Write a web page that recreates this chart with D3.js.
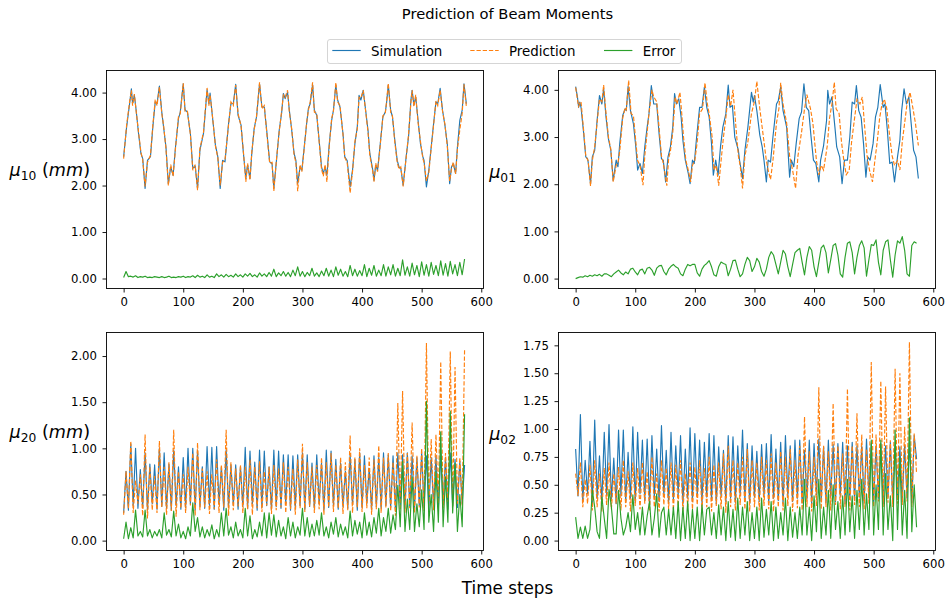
<!DOCTYPE html>
<html><head><meta charset="utf-8">
<script src="https://cdn.jsdelivr.net/npm/d3@7"></script>
<style>body{margin:0;background:#fff}svg{display:block}text{font-family:"DejaVu Sans",sans-serif}</style>
</head><body><svg id="c" width="945" height="601"></svg>
<script>
// ---------- DATA ----------
const seriesNames = ["Simulation", "Prediction", "Error"];
const xTickValues = [0, 100, 200, 300, 400, 500, 600];
const steps4 = d3.range(0, 576, 4); // time steps sampled every 4

// mu10 (top-left)
const tlT = [0,5,10,13,15,18,21,25,29,32, 36,40,45,49,53,56,60,64,67,71, 75,79,83,87,92,95,100,103,107,112,
 116,120,124,128,134,140,143,145,149,154, 158,162,166,170,176,180,184,188,192,197, 201,205,208,212,215,219,223,228,232,236,
 240,245,249,252,257,261,265,268,271,275, 278,282,286,289,292,296,299,303,307,310, 313,317,320,324,328,332,335,338,341,345,
 349,352,356,359,363,368,371,375,380,384, 388,392,395,398,402,406,410,413,418,420, 423,426,430,435,439,441,444,448,451,455,
 459,462,465,469,474,478,482,484,487,490, 494,498,502,504,508,512,516,520,524,527, 531,535,539,543,547,550,553,557,560,564, 568,571,575];
const tlSim = [2.62,3.26,3.76,4.08,3.76,3.94,3.62,3.12,2.69,2.58, 1.94,2.54,2.62,3.26,3.8,3.76,4.14,3.58,3.26,2.83, 2.04,2.4,2.22,2.83,3.44,3.58,4.19,3.63,3.58,3.12,
 2.37,2.42,1.94,2.76,3.12,4.06,3.76,3.99,3.48,2.87, 2.62,1.94,2.54,2.51,3.33,3.76,3.76,4.18,3.51,3.3, 2.69,2.15,2.44,2.15,2.69,3.23,3.48,4.19,3.69,3.69,
 3.19,2.51,2.47,1.94,2.62,3.19,3.55,3.98,3.87,4.01, 3.62,3.19,2.69,2.54,2.04,2.4,2.33,2.83,3.33,3.66, 3.76,4.17,3.62,3.51,2.97,2.4,2.26,2.4,2.22,2.9,
 3.4,3.62,4.16,3.84,3.69,3.12,2.62,2.54,1.97,2.33, 2.9,3.26,3.94,3.84,4.05,3.62,3.19,2.69,2.33,2.11, 2.44,2.33,2.83,3.48,3.58,3.76,4.16,3.62,3.48,2.97,
 2.54,2.4,2.37,2.01,2.62,3.05,3.84,4.05,3.73,3.91, 3.4,2.9,2.62,2.54,1.97,2.33,2.83,3.33,3.8,3.76, 4.09,3.62,3.3,2.9,2.04,2.4,2.47,2.26,2.83,3.4, 3.62,4.19,3.76];
const tlPred = [2.58,3.3,3.8,4.05,3.72,3.97,3.6,3.15,2.72,2.55, 1.98,2.5,2.65,3.3,3.85,3.72,4.12,3.55,3.3,2.8, 2.0,2.45,2.2,2.8,3.48,3.55,4.2,3.6,3.6,3.1,
 2.33,2.45,1.9,2.8,3.15,4.1,3.72,3.95,3.5,2.85, 2.6,2.0,2.5,2.55,3.3,3.8,3.72,4.16,3.55,3.28, 2.72,2.08,2.48,2.12,2.72,3.2,3.5,4.22,3.65,3.72,
 3.15,2.48,2.5,1.88,2.65,3.15,3.6,3.95,3.9,4.05, 3.58,3.22,2.65,2.5,1.88,2.45,2.3,2.8,3.35,3.62, 3.8,4.22,3.58,3.55,2.95,2.35,2.2,2.45,2.08,2.85,
 3.45,3.6,4.22,3.8,3.72,3.1,2.6,2.5,1.84,2.3, 2.95,3.22,3.9,3.88,4.05,3.6,3.15,2.65,2.3,2.08, 2.48,2.3,2.8,3.5,3.55,3.8,4.2,3.58,3.5,2.92,
 2.5,2.35,2.4,1.98,2.6,3.1,3.8,4.05,3.7,3.95, 3.35,2.95,2.58,2.5,2.1,2.28,2.8,3.3,3.82,3.72, 4.05,3.6,3.32,2.85,2.1,2.35,2.5,2.25,2.78,3.2, 3.55,4.18,3.7];
const tlErr = [0.02,0.15,0.04,0.05,0.03,0.06,0.02,0.04, 0.03,0.05,0.02,0.03,0.02,0.04,0.03,0.02, 0.04,0.02,0.03,0.05,0.02,0.03,0.02,0.04,
 0.03,0.05,0.02,0.04,0.03,0.06,0.02,0.07, 0.03,0.05,0.02,0.08,0.03,0.05,0.02,0.1, 0.04,0.08,0.03,0.09,0.04,0.07,0.03,0.1,
 0.04,0.08,0.03,0.1,0.05,0.11,0.04,0.08, 0.03,0.12,0.05,0.1,0.04,0.13,0.05,0.2, 0.04,0.12,0.06,0.15,0.05,0.13,0.04,0.18,
 0.06,0.25,0.05,0.15,0.04,0.13,0.06,0.22, 0.05,0.12,0.04,0.16,0.06,0.22,0.05,0.18, 0.04,0.25,0.07,0.2,0.05,0.15,0.04,0.28,
 0.06,0.2,0.05,0.17,0.06,0.3,0.04,0.22, 0.07,0.28,0.05,0.18,0.06,0.3,0.05,0.25, 0.08,0.3,0.05,0.22,0.06,0.4,0.07,0.25,
 0.05,0.33,0.08,0.28,0.04,0.36,0.07,0.3, 0.05,0.35,0.09,0.28,0.06,0.38,0.07,0.32, 0.05,0.37,0.1,0.3,0.06,0.35,0.08,0.42];

// mu01 (top-right)
const trSimT = [0,3,5,7,9,13,17,20,21,25, 28,32,36,40,44,47,51,55,59,63, 68,71,74,79,83,85,88,92,97,101, 104,108,112,116,120,123,127,131,136,140,
 144,147,151,155,159,163,166,169,173,177, 180,184,189,192,196,199,203,208,212,216, 220,224,228,231,235,239,243,247,252,256,
 259,263,267,273,275,280,284,289,295,298, 300,304,309,313,316,320,323,327,331,337, 340,344,348,354,359,362,366,370,375,379,
 383,387,391,395,399,403,408,411,416,421, 423,426,430,435,438,443,447,451,456,460, 464,468,471,475,479,483,487,490,494,499,
 503,507,511,516,519,523,527,531,535,540, 544,547,551,555,559,563,567,571,575];
const trSim = [4.07,3.85,3.63,3.74,3.63,3.14,2.58,2.54,2.47,2.01, 2.58,2.72,3.35,3.88,3.7,4.02,3.42,2.96,2.72,2.08, 2.51,2.37,2.86,3.46,3.6,3.56,4.07,3.56,3.28,2.79,
 2.3,2.44,2.23,2.79,3.21,3.49,4.09,3.7,3.7,3.07, 2.54,2.51,2.05,2.58,2.79,3.21,3.92,3.7,3.81,3.42, 2.93,2.51,2.23,2.01,2.51,2.44,3.0,3.63,3.63,4.06,
 3.63,3.42,2.86,2.19,2.51,2.19,2.79,3.21,3.49,4.1, 3.63,3.67,3.0,2.72,2.51,2.12,2.72,3.21,3.95,3.74, 3.88,3.56,3.04,2.79,2.51,2.05,2.51,2.47,3.0,3.7,
 3.77,4.06,3.56,3.21,2.15,2.51,2.37,2.86,3.39,3.53, 4.13,3.63,3.56,3.0,2.51,2.44,2.05,2.51,2.82,3.35, 3.99,3.7,3.85,3.21,2.79,2.58,2.01,2.51,2.51,3.0,
 3.74,3.7,4.09,3.56,3.42,2.86,2.15,2.58,2.51,2.86, 3.42,3.63,4.11,3.63,3.7,3.14,2.44,2.47,2.05,2.58, 2.93,3.56,4.02,3.7,3.85,3.28,2.72,2.58,2.12];
const trPredT = [0,3,5,7,9,13,17,21,25,28, 32,36,40,44,47,51,55,59,63,68, 71,74,79,83,85,89,93,97,101,104, 108,113,116,120,123,128,131,136,140,144,
 147,153,156,159,163,167,170,175,178,181, 185,189,193,196,200,204,208,213,217,221, 224,229,232,236,240,244,248,252,256,260,
 264,269,273,276,280,284,289,295,300,304, 309,314,320,323,327,331,337,341,344,348, 354,359,364,369,373,379,384,388,394,398,
 404,408,412,416,422,426,430,434,437,442, 446,450,454,459,463,467,472,477,481,485, 489,493,498,502,506,510,514,518,522,527,
 531,535,540,544,548,552,556,561,566,570, 575];
const trPred = [4.05,3.8,3.65,3.72,3.75,3.2,2.6,2.5,1.96,2.5, 2.8,3.3,3.8,3.75,4.1,3.5,3.0,2.75,2.05,2.4, 2.45,2.7,3.4,3.62,3.58,4.2,3.5,3.45,2.9,2.5,
 2.4,1.98,2.6,3.1,3.5,4.0,3.85,3.75,3.2,2.6, 2.45,1.97,2.55,2.7,3.1,3.85,3.7,3.95,3.5,3.0, 2.5,2.3,2.05,2.4,2.5,2.9,3.5,3.6,4.15,3.7,
 3.5,3.0,2.3,2.4,1.97,2.5,3.0,3.4,3.9,3.65, 4.0,3.2,2.6,2.4,1.91,2.6,2.9,3.5,3.75,4.18, 3.6,3.1,2.5,2.3,2.1,2.5,3.3,3.6,4.15,3.7,
 3.3,2.6,2.3,1.91,2.6,3.1,3.6,3.9,3.6,3.3, 2.5,2.2,2.4,2.3,2.8,3.4,3.7,4.16,3.6,3.5, 2.9,2.5,2.2,2.3,2.9,3.3,3.8,3.7,3.85,3.2,
 2.6,2.3,2.05,2.5,2.9,3.4,3.7,3.8,3.6,3.0, 2.6,2.4,2.5,2.3,2.9,3.3,3.7,3.95,3.6,3.3, 2.82];
const trErr = [0.0,0.02,0.04,0.03,0.06,0.04,0.07,0.05, 0.08,0.06,0.09,0.05,0.1,0.1,0.07,0.04, 0.1,0.14,0.18,0.12,0.08,0.14,0.1,0.2,
 0.22,0.14,0.08,0.18,0.2,0.1,0.22,0.24, 0.18,0.07,0.22,0.27,0.28,0.15,0.08,0.2, 0.26,0.3,0.25,0.22,0.1,0.06,0.2,0.3,
 0.27,0.3,0.3,0.12,0.05,0.2,0.28,0.32, 0.38,0.25,0.08,0.05,0.25,0.35,0.32,0.3, 0.06,0.2,0.38,0.39,0.2,0.04,0.1,0.3,
 0.45,0.38,0.15,0.25,0.43,0.35,0.15,0.05, 0.2,0.45,0.57,0.5,0.3,0.1,0.35,0.6, 0.52,0.25,0.04,0.3,0.55,0.6,0.64,0.35,
 0.08,0.45,0.68,0.6,0.25,0.04,0.35,0.65, 0.71,0.55,0.12,0.4,0.7,0.74,0.5,0.1, 0.03,0.45,0.75,0.78,0.55,0.1,0.45,0.7,
 0.8,0.65,0.05,0.4,0.72,0.7,0.82,0.35, 0.08,0.6,0.78,0.82,0.4,0.03,0.5,0.8, 0.75,0.89,0.6,0.1,0.05,0.7,0.78,0.75];

// mu20 (bottom-left), every 4 steps
const blSim = [0.30,0.75,0.33,1.05,0.38,1.0,0.35,0.77, 0.36,0.95,0.33,0.83,0.4,0.82,0.34,1.0, 0.37,0.95,0.35,0.83,0.33,0.98,0.38,0.8,
 0.34,0.9,0.36,1.0,0.4,1.0,0.33,0.98, 0.37,0.8,0.35,1.02,0.38,1.01,0.34,1.02, 0.4,0.8,0.33,0.98,0.36,0.82,0.39,0.82,
 0.34,0.8,0.37,1.01,0.35,0.97,0.4,0.85, 0.33,0.98,0.36,0.97,0.38,0.8,0.34,0.98, 0.37,0.97,0.35,0.93,0.4,0.93,0.33,0.92,
 0.36,0.93,0.38,0.95,0.34,0.93,0.37,0.84, 0.35,0.93,0.4,0.84,0.33,0.98,0.36,0.97, 0.38,0.88,0.34,0.84,0.37,0.75,0.35,0.93,
 0.39,0.88,0.33,0.95,0.36,0.92,0.4,0.78, 0.34,0.92,0.37,0.9,0.35,0.95,0.38,0.93, 0.36,0.92,0.33,0.95,0.39,0.93,0.35,0.95,
 0.37,0.92,0.34,0.9,0.38,0.95,0.36,0.92, 0.33,0.9,0.37,0.92,0.35,0.93,0.39,0.9, 0.34,0.95,0.38,0.88,0.36,0.86,0.4,0.82];
const blPred = [0.28,0.75,0.35,1.08,0.3,0.65,0.4,0.72, 0.27,1.15,0.24,0.8,0.33,0.7,0.3,1.08, 0.36,0.8,0.28,0.85,0.32,1.2,0.26,0.75,
 0.35,0.72,0.3,0.8,0.38,0.95,0.27,1.06, 0.33,0.78,0.36,0.75,0.29,0.72,0.34,0.88, 0.3,0.82,0.36,1.2,0.27,0.85,0.33,0.78,
 0.37,0.82,0.3,0.8,0.34,0.88,0.28,0.8, 0.35,0.86,0.31,0.75,0.38,0.8,0.29,0.82, 0.33,0.78,0.36,0.85,0.3,0.8,0.34,0.78,
 0.28,0.88,0.35,1.05,0.31,0.85,0.37,0.8, 0.3,0.82,0.34,0.9,0.28,0.85,0.36,0.95, 0.31,0.82,0.35,0.9,0.29,0.85,0.33,1.14,
 0.3,0.9,0.36,1.0,0.31,0.82,0.35,0.9, 0.28,0.88,0.34,1.03,0.3,0.9,0.36,0.95, 0.32,0.85,0.27,1.49,0.33,1.62,0.3,0.95,
 0.35,1.28,0.3,0.92,0.36,1.0,0.32,2.14, 0.38,1.1,0.33,1.15,0.4,1.94,0.35,0.95, 0.42,2.05,0.36,1.88,0.4,0.9,0.38,2.07];
const blErr = [0.02,0.2,0.02,0.14,0.03,0.33,0.05,0.1, 0.04,0.33,0.05,0.12,0.03,0.1,0.05,0.12, 0.03,0.3,0.06,0.12,0.04,0.32,0.05,0.18,
 0.03,0.1,0.02,0.15,0.05,0.41,0.1,0.25, 0.04,0.15,0.03,0.12,0.05,0.17,0.02,0.12, 0.04,0.3,0.05,0.35,0.06,0.15,0.03,0.2,
 0.05,0.12,0.03,0.35,0.05,0.27,0.02,0.12, 0.04,0.2,0.05,0.3,0.03,0.3,0.06,0.28, 0.04,0.22,0.05,0.15,0.02,0.25,0.05,0.2,
 0.03,0.15,0.06,0.35,0.05,0.25,0.04,0.18, 0.05,0.22,0.06,0.3,0.05,0.15,0.03,0.2, 0.07,0.25,0.04,0.18,0.06,0.15,0.03,0.32,
 0.05,0.22,0.07,0.2,0.03,0.3,0.06,0.2, 0.04,0.25,0.08,0.35,0.05,0.25,0.1,0.35, 0.08,0.28,0.12,0.6,0.15,0.86,0.1,0.45,
 0.12,0.69,0.1,0.4,0.15,0.55,0.12,1.51, 0.2,0.5,0.1,0.75,0.2,1.18,0.15,0.69, 0.2,1.4,0.3,0.84,0.1,0.5,0.15,1.37];

// mu02 (bottom-right), every 4 steps
const brSim = [0.82,0.4,1.13,0.35,0.72,0.42,0.89,0.33, 1.08,0.38,0.76,0.34,0.97,0.41,1.04,0.36, 0.74,0.33,0.99,0.4,0.99,0.35,0.79,0.38,
 1.02,0.34,0.97,0.42,0.9,0.36,0.91,0.33, 0.94,0.39,0.82,0.35,1.03,0.4,0.81,0.34, 0.97,0.37,0.85,0.41,0.94,0.33,0.82,0.38,
 1.01,0.35,0.96,0.4,0.9,0.34,0.88,0.39, 0.96,0.36,0.94,0.33,0.84,0.4,0.81,0.35, 0.94,0.38,0.93,0.34,0.85,0.41,0.99,0.36,
 0.87,0.33,0.85,0.39,0.8,0.35,0.86,0.4, 0.87,0.34,0.95,0.38,0.82,0.36,0.88,0.33, 0.94,0.4,0.85,0.35,0.9,0.38,0.9,0.34,
 0.81,0.37,0.9,0.33,0.87,0.41,0.91,0.36, 0.84,0.34,0.9,0.39,0.86,0.35,0.87,0.4, 0.88,0.33,0.85,0.37,0.88,0.36,0.85,0.39,
 0.85,0.34,0.91,0.4,0.87,0.35,0.85,0.38, 0.87,0.33,0.85,0.39,0.88,0.36,0.85,0.4, 0.84,0.35,0.85,0.38,0.88,0.34,0.94,0.73];
const brPred = [0.6,0.4,0.7,0.3,0.55,0.33,0.68,0.27, 0.72,0.3,0.6,0.26,0.65,0.32,0.7,0.28, 0.6,0.33,0.66,0.27,0.72,0.3,0.62,0.26,
 0.7,0.31,0.65,0.28,0.7,0.33,0.62,0.27, 0.75,0.3,0.6,0.26,0.72,0.32,0.65,0.28, 0.7,0.27,0.68,0.31,0.72,0.26,0.6,0.3,
 0.7,0.28,0.66,0.32,0.72,0.27,0.65,0.3, 0.75,0.26,0.68,0.31,0.7,0.28,0.78,0.25, 0.85,0.3,0.72,0.27,0.7,0.32,0.75,0.28,
 0.82,0.26,0.72,0.3,0.7,0.27,0.75,0.31, 0.72,0.28,0.78,0.26,0.7,0.3,0.8,0.27, 0.75,0.31,0.82,0.26,0.72,0.29,0.85,0.27,
 1.11,0.3,0.8,0.26,0.75,0.31,1.375,0.28, 0.85,0.3,0.8,0.27,1.23,0.32,0.85,0.28, 0.78,0.3,1.36,0.27,0.85,0.32,1.14,0.3,
 0.95,0.28,0.82,0.33,1.6,0.3,0.95,0.35, 1.43,0.3,1.38,0.34,0.9,0.3,1.54,0.33, 1.5,0.32,1.02,0.35,1.78,0.3,0.96,0.6];
const brErr = [0.21,0.02,0.12,0.02,0.13,0.02,0.1,0.45, 0.3,0.08,0.02,0.39,0.2,0.02,0.46,0.3, 0.06,0.06,0.45,0.2,0.05,0.12,0.25,0.08,
 0.41,0.1,0.25,0.05,0.3,0.05,0.22,0.35, 0.05,0.2,0.42,0.03,0.25,0.3,0.05,0.28, 0.05,0.3,0.02,0.35,0.0,0.3,0.02,0.35,
 0.0,0.28,0.02,0.3,0.0,0.32,0.05,0.28, 0.3,0.05,0.25,0.02,0.32,0.05,0.3,0.0, 0.35,0.03,0.28,0.0,0.38,0.02,0.3,0.05,
 0.35,0.0,0.25,0.02,0.3,0.0,0.38,0.03, 0.28,0.05,0.35,0.0,0.3,0.02,0.25,0.05, 0.38,0.0,0.3,0.03,0.25,0.02,0.3,0.05,
 0.55,0.05,0.3,0.0,0.4,0.08,0.55,0.02, 0.3,0.05,0.45,0.02,0.5,0.1,0.35,0.02, 0.4,0.05,0.55,0.08,0.4,0.02,0.45,0.1,
 0.55,0.05,0.42,0.1,0.9,0.05,0.5,0.1, 0.9,0.05,0.6,0.1,0.4,0.0,0.99,0.1, 0.75,0.05,0.45,0.02,1.1,0.08,0.5,0.12];

const tlYTicks = [0, 1, 2, 3, 4];
const trYTicks = [0, 1, 2, 3, 4];
const blYTicks = [0, 0.5, 1, 1.5, 2];
const brYTicks = [0, 0.25, 0.5, 0.75, 1, 1.25, 1.5, 1.75];

// ---------- DRAW ----------
const svg = d3.select('#c');
const colors = {sim: '#1f77b4', pred: '#ff7f0e', err: '#2ca02c'};
const panels = [
  {box: [106.5, 483.5, 70.5, 288.5], yDom: [-0.215, 4.475], yTicks: tlYTicks,
   sim: [tlT, tlSim], pred: [tlT, tlPred], err: [steps4, tlErr], sub: '10', mm: true, labX: 90, labY: 176},
  {box: [558.5, 935.5, 70.5, 288.5], yDom: [-0.21, 4.41], yTicks: trYTicks,
   sim: [trSimT, trSim], pred: [trPredT, trPred], err: [steps4, trErr], sub: '01', mm: false, labX: 516, labY: 178},
  {box: [106.5, 483.5, 332.5, 550.5], yDom: [-0.107, 2.255], yTicks: blYTicks,
   sim: [steps4, blSim], pred: [steps4, blPred], err: [steps4, blErr], sub: '20', mm: true, labX: 90, labY: 438},
  {box: [558.5, 935.5, 332.5, 550.5], yDom: [-0.089, 1.865], yTicks: brYTicks,
   sim: [steps4, brSim], pred: [steps4, brPred], err: [steps4, brErr], sub: '02', mm: false, labX: 516, labY: 440}
];
const zip = (t, v) => { const n = Math.min(t.length, v.length); const out = []; for (let i = 0; i < n; i++) out.push([t[i], v[i]]); return out; };

panels.forEach((p, pi) => {
  const [x0, x1, y0, y1] = p.box;
  const x = d3.scaleLinear().domain([-28.75, 603.75]).range([x0, x1]);
  const y = d3.scaleLinear().domain(p.yDom).range([y1, y0]);
  const g = svg.append('g');
  const clipId = 'clip' + pi;
  g.append('clipPath').attr('id', clipId).append('rect').attr('x', x0).attr('y', y0).attr('width', x1 - x0).attr('height', y1 - y0);

  const ax = g.append('g').attr('transform', `translate(0,${y1})`)
    .call(d3.axisBottom(x).tickValues(xTickValues).tickSize(4).tickPadding(5.5).tickFormat(d3.format('d')));
  const ay = g.append('g').attr('transform', `translate(${x0},0)`)
    .call(d3.axisLeft(y).tickValues(p.yTicks).tickSize(4).tickPadding(5.5).tickFormat(d3.format('.2f')));
  [ax, ay].forEach(a => {
    a.select('.domain').remove();
    a.selectAll('text').attr('font-size', 11.7).attr('font-family', 'DejaVu Sans').attr('fill', '#000');
    a.selectAll('line').attr('stroke', '#000').attr('stroke-width', 0.9);
  });

  const line = d3.line().x(d => x(d[0])).y(d => y(d[1]));
  const lg = g.append('g').attr('clip-path', `url(#${clipId})`);
  lg.append('path').attr('d', line(zip(...p.sim))).attr('fill', 'none').attr('stroke', colors.sim).attr('stroke-width', 1.15).attr('stroke-linejoin', 'round');
  lg.append('path').attr('d', line(zip(...p.pred))).attr('fill', 'none').attr('stroke', colors.pred).attr('stroke-width', 1.15).attr('stroke-dasharray', '4.3,1.9');
  lg.append('path').attr('d', line(zip(...p.err))).attr('fill', 'none').attr('stroke', colors.err).attr('stroke-width', 1.15).attr('stroke-linejoin', 'round');

  g.append('rect').attr('x', x0).attr('y', y0).attr('width', x1 - x0).attr('height', y1 - y0)
    .attr('fill', 'none').attr('stroke', '#000').attr('stroke-width', 0.9);

  const lab = g.append('text').attr('x', p.labX).attr('y', p.labY).attr('text-anchor', 'end')
    .attr('font-size', 17.6).attr('font-family', 'DejaVu Sans').attr('fill', '#000');
  lab.append('tspan').attr('font-style', 'italic').text('μ');
  lab.append('tspan').attr('font-size', 12.3).attr('dy', 3.8).text(p.sub);
  if (p.mm) {
    lab.append('tspan').attr('dy', -3.8).text(' (');
    lab.append('tspan').attr('font-style', 'italic').text('mm');
    lab.append('tspan').text(')');
  }
});

// title
svg.append('text').attr('x', 507.5).attr('y', 18.5).attr('text-anchor', 'middle')
  .attr('font-size', 14.7).attr('fill', '#000').text('Prediction of Beam Moments');
// x label
svg.append('text').attr('x', 507.5).attr('y', 594).attr('text-anchor', 'middle')
  .attr('font-size', 16.8).attr('fill', '#000').text('Time steps');

// legend
const leg = svg.append('g');
leg.append('rect').attr('x', 327.5).attr('y', 39.5).attr('width', 354).attr('height', 24).attr('rx', 2.5)
  .attr('fill', '#fff').attr('stroke', '#d5d5d5').attr('stroke-width', 1);
const legX = [332.3, 470.3, 604];
const legKeys = ['sim', 'pred', 'err'];
seriesNames.forEach((name, i) => {
  const lx = legX[i];
  const ln = leg.append('line').attr('x1', lx).attr('x2', lx + 28.4).attr('y1', 50.5).attr('y2', 50.5)
    .attr('stroke', colors[legKeys[i]]).attr('stroke-width', 1.15);
  if (i === 1) ln.attr('stroke-dasharray', '4.3,1.9');
  leg.append('text').attr('x', lx + 38.7).attr('y', 55.5).attr('font-size', 13.4).attr('fill', '#000').text(name);
});
</script>
</body></html>
